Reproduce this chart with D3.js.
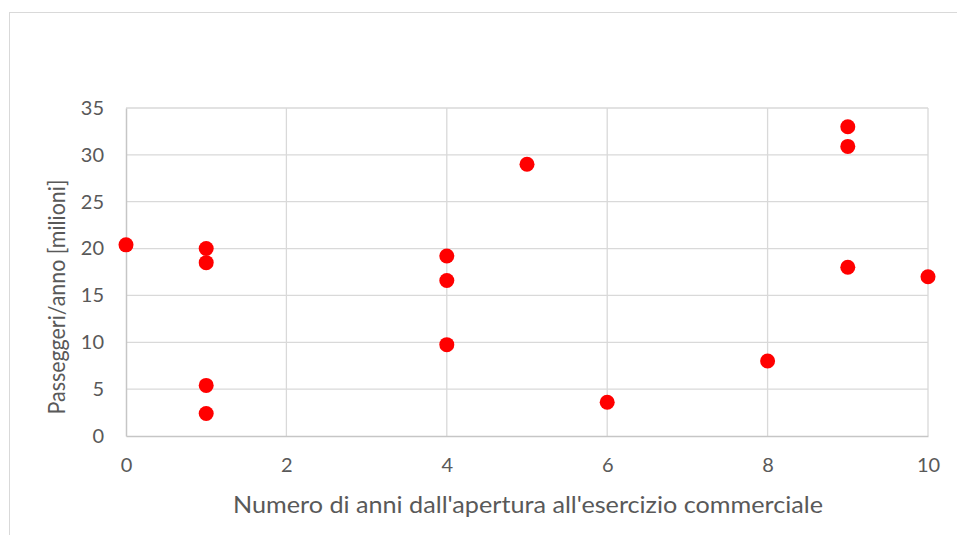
<!DOCTYPE html>
<html>
<head>
<meta charset="utf-8">
<script src="https://cdn.jsdelivr.net/npm/d3@7"></script>
<style>
  html, body { margin: 0; padding: 0; background: #fff; }
  svg { display: block; }
  .tick text { font-family: Lato, "Open Sans", sans-serif; fill: #595959; }
</style>
</head>
<body>
<svg id="chart" width="957" height="535"></svg>
<script>
// Years from opening to commercial service, and passengers per year (millions)
const anniApertura = [0, 1, 1, 1, 1, 4, 4, 4, 5, 6, 8, 9, 9, 9, 10];
const passeggeriMilioni = [20.4, 20, 18.5, 5.4, 2.4, 19.2, 16.6, 9.75, 29, 3.6, 8, 33, 30.9, 18, 17];
const xTicks = [0, 2, 4, 6, 8, 10];
const yTicks = [0, 5, 10, 15, 20, 25, 30, 35];
const xTitle = "Numero di anni dall'apertura all'esercizio commerciale";
const yTitle = "Passeggeri/anno [milioni]";

const svg = d3.select("#chart");
const W = 957, H = 535;
const plot = { left: 126, right: 928, top: 108, bottom: 436 };

// outer chart frame
svg.append("rect")
  .attr("x", 9.5).attr("y", 12.5)
  .attr("width", W + 20).attr("height", H + 20)
  .attr("fill", "#fff").attr("stroke", "#d9d9d9").attr("stroke-width", 1);

const x = d3.scaleLinear().domain([0, 10]).range([plot.left, plot.right]);
const y = d3.scaleLinear().domain([0, 35]).range([plot.bottom, plot.top]);

// gridlines
const grid = svg.append("g");
grid.selectAll("line.h").data(yTicks.filter(d => d > 0)).join("line")
  .attr("x1", plot.left).attr("x2", plot.right)
  .attr("y1", d => y(d)).attr("y2", d => y(d))
  .attr("stroke", "#d9d9d9").attr("stroke-width", 1.3);
grid.selectAll("line.v").data(xTicks.filter(d => d > 0)).join("line")
  .attr("y1", plot.top).attr("y2", plot.bottom)
  .attr("x1", d => x(d)).attr("x2", d => x(d))
  .attr("stroke", "#d9d9d9").attr("stroke-width", 1.3);

// axes
const xAxis = svg.append("g")
  .attr("transform", `translate(0,${plot.bottom})`)
  .call(d3.axisBottom(x).tickValues(xTicks).tickSize(0).tickPadding(22));
const yAxis = svg.append("g")
  .attr("transform", `translate(${plot.left},0)`)
  .call(d3.axisLeft(y).tickValues(yTicks).tickSize(0).tickPadding(22));
[xAxis, yAxis].forEach(g => {
  g.select(".domain").attr("stroke", "#c6c6c6").attr("stroke-width", 1.5);
  g.selectAll("text").attr("font-size", 20);
});

// markers
svg.append("g").selectAll("circle")
  .data(anniApertura.map((a, i) => [a, passeggeriMilioni[i]]))
  .join("circle")
  .attr("cx", d => x(d[0]))
  .attr("cy", d => y(d[1]))
  .attr("r", 7.5)
  .attr("fill", "#ff0000");

// axis titles
svg.append("text")
  .attr("x", 528).attr("y", 513)
  .attr("text-anchor", "middle")
  .attr("font-family", "Lato, 'Open Sans', sans-serif")
  .attr("font-size", 23).attr("fill", "#595959")
  .attr("textLength", 590).attr("lengthAdjust", "spacingAndGlyphs")
  .text(xTitle);
svg.append("text")
  .attr("transform", `translate(65,297) rotate(-90)`)
  .attr("text-anchor", "middle")
  .attr("font-family", "Lato, 'Open Sans', sans-serif")
  .attr("font-size", 23).attr("fill", "#595959")
  .attr("textLength", 235).attr("lengthAdjust", "spacingAndGlyphs")
  .text(yTitle);
</script>
</body>
</html>
